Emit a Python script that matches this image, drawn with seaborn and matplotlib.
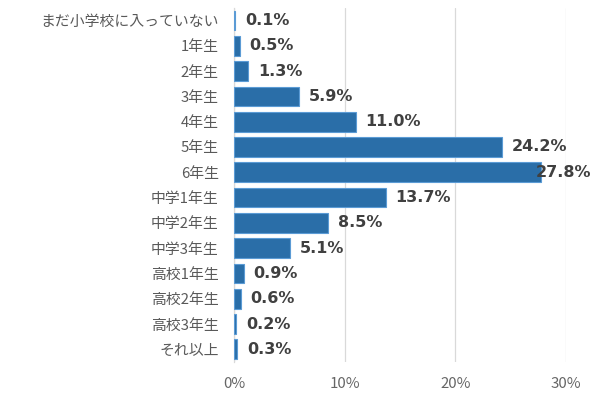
import matplotlib
matplotlib.use("Agg")
import matplotlib.pyplot as plt
import seaborn as sns
import pandas as pd

categories = ["まだ小学校に入っていない", "1年生", "2年生", "3年生", "4年生", "5年生", "6年生",
              "中学1年生", "中学2年生", "中学3年生", "高校1年生", "高校2年生", "高校3年生", "それ以上"]
values = [0.1, 0.5, 1.3, 5.9, 11.0, 24.2, 27.8, 13.7, 8.5, 5.1, 0.9, 0.6, 0.2, 0.3]
xticks = [0, 10, 20, 30]
xtick_labels = ["0%", "10%", "20%", "30%"]

sns.set_theme(style="white")
plt.rcParams['font.family'] = ['Noto Sans CJK JP', 'DejaVu Sans']

df = pd.DataFrame({"cat": categories, "val": values})

fig = plt.figure(figsize=(6, 3.93), dpi=100)
ax = fig.add_axes([0.39, 0.079, 0.553, 0.901])

sns.barplot(data=df, x="val", y="cat", orient="h", color="#2a6ea8", saturation=1,
            width=0.78, edgecolor="#5b9bd5", linewidth=0.8, ax=ax, zorder=3)

ax.set_xlim(0, 30)
ax.set_ylim(13.5, -0.5)
ax.set_xticks(xticks)
ax.set_xticklabels(xtick_labels, color="#666666", fontsize=10.8)
ax.tick_params(axis="x", length=0, pad=11)
ax.tick_params(axis="y", length=0, pad=11, labelsize=10.7, labelcolor="#595959")
ax.set_xlabel("")
ax.set_ylabel("")
ax.grid(axis="x", color="#d9d9d9", linewidth=0.9, zorder=0)
for s in ["top", "right", "bottom"]:
    ax.spines[s].set_visible(False)
ax.spines["left"].set_color("#d9d9d9")
ax.spines["left"].set_linewidth(0.9)

for i, v in enumerate(values):
    if v > 27:
        ax.text(27.3, i, f"{v:.1f}%", ha="left", va="center", fontsize=11.5,
                fontweight="bold", color="#404040", family="DejaVu Sans", zorder=5)
    else:
        ax.annotate(f"{v:.1f}%", xy=(v, i), xytext=(7, 0), textcoords="offset points",
                    ha="left", va="center", fontsize=11.5, fontweight="bold",
                    color="#404040", family="DejaVu Sans", zorder=5)

fig.savefig("out.png", dpi=100)
